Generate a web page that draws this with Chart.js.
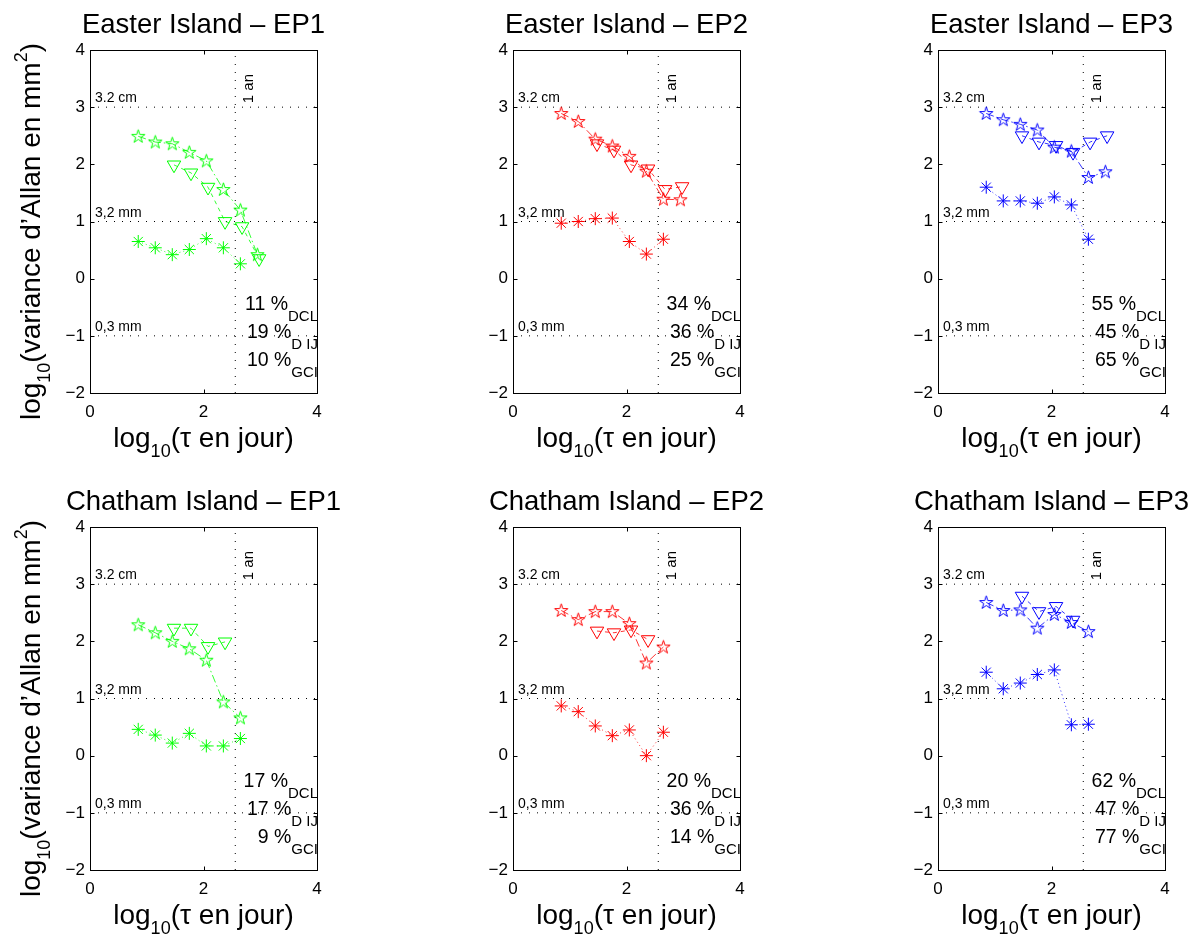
<!DOCTYPE html>
<html>
<head>
<meta charset="utf-8">
<script src="https://cdn.jsdelivr.net/npm/chart.js@4.4.1/dist/chart.umd.min.js"></script>
<style>
html,body{margin:0;padding:0;background:#fff;overflow:hidden;width:1199px;height:940px;}
canvas{position:absolute;}
</style>
</head>
<body>
<canvas id="p0" width="360" height="463" style="left:0px;top:0px"></canvas>
<canvas id="p1" width="360" height="463" style="left:423px;top:0px"></canvas>
<canvas id="p2" width="360" height="463" style="left:848px;top:0px"></canvas>
<canvas id="p3" width="360" height="463" style="left:0px;top:477px"></canvas>
<canvas id="p4" width="360" height="463" style="left:423px;top:477px"></canvas>
<canvas id="p5" width="360" height="463" style="left:848px;top:477px"></canvas>
<script>
const FONT = '"Liberation Sans", Arial, Helvetica, sans-serif';

// ---- axes / reference values ----
const xTicks = [0, 2, 4];
const yTicks = [-2, -1, 0, 1, 2, 3, 4];
const refLevels = [3, 1, -1];
const refLabels = ['3.2 cm', '3,2 mm', '0,3 mm'];
const yearLog = 2.56;
const yearLabel = '1 an';
const pctNames = ['DCL', 'D IJ', 'GCI'];
const pctLevels = [-0.54, -1.03, -1.53];

// ---- x positions (log10 tau, days) ----
const starTau = [0.85, 1.15, 1.45, 1.75, 2.05, 2.35, 2.65, 2.95];
const triTau  = [1.48, 1.78, 2.08, 2.38, 2.68, 2.98];
const astTau  = [0.85, 1.15, 1.45, 1.75, 2.05, 2.35, 2.65];

// ---- panel titles and colours ----
const titles = ['Easter Island \u2013 EP1', 'Easter Island \u2013 EP2', 'Easter Island \u2013 EP3',
                'Chatham Island \u2013 EP1', 'Chatham Island \u2013 EP2', 'Chatham Island \u2013 EP3'];
const colors = ['#00ff00', '#ff0000', '#0000ff', '#00ff00', '#ff0000', '#0000ff'];

// ---- Easter Island ----
const easterEP1Star = [2.49, 2.39, 2.36, 2.21, 2.06, 1.56, 1.20, 0.42];
const easterEP1Tri  = [1.99, 1.85, 1.60, 1.00, 0.91, 0.35];
const easterEP1Ast  = [0.65, 0.54, 0.42, 0.51, 0.70, 0.54, 0.26];
const easterEP1Pct  = [11, 19, 10];

const easterEP2Star = [2.89, 2.75, 2.44, 2.32, 2.14, 1.88, 1.39, 1.38];
const easterEP2Tri  = [2.36, 2.25, 1.99, 1.92, 1.56, 1.61];
const easterEP2Ast  = [0.97, 1.00, 1.05, 1.06, 0.65, 0.43, 0.69];
const easterEP2Pct  = [34, 36, 25];

const easterEP3Star = [2.89, 2.78, 2.70, 2.60, 2.30, 2.23, 1.77, 1.87];
const easterEP3Tri  = [2.50, 2.39, 2.33, 2.21, 2.39, 2.50];
const easterEP3Ast  = [1.60, 1.36, 1.36, 1.32, 1.43, 1.29, 0.69];
const easterEP3Pct  = [55, 45, 65];

// ---- Chatham Island ----
const chathamEP1Star = [2.29, 2.15, 2.00, 1.87, 1.67, 0.94, 0.66];
const chathamEP1Tri  = [2.23, 2.23, 1.91, 1.99];
const chathamEP1Ast  = [0.46, 0.36, 0.22, 0.39, 0.17, 0.17, 0.30];
const chathamEP1Pct  = [17, 17, 9];

const chathamEP2Star = [2.54, 2.38, 2.52, 2.52, 2.31, 1.62, 1.90];
const chathamEP2Tri  = [2.18, 2.15, 2.20, 2.03];
const chathamEP2Ast  = [0.87, 0.77, 0.52, 0.35, 0.45, 0.00, 0.41];
const chathamEP2Pct  = [20, 36, 14];

const chathamEP3Star = [2.68, 2.54, 2.55, 2.23, 2.47, 2.33, 2.17];
const chathamEP3Tri  = [2.79, 2.52, 2.61, 2.37];
const chathamEP3Ast  = [1.46, 1.17, 1.27, 1.42, 1.50, 0.54, 0.55];
const chathamEP3Pct  = [62, 47, 77];

const panels = [
  {star: easterEP1Star, tri: easterEP1Tri, ast: easterEP1Ast, pct: easterEP1Pct, yTitle: true},
  {star: easterEP2Star, tri: easterEP2Tri, ast: easterEP2Ast, pct: easterEP2Pct, yTitle: false},
  {star: easterEP3Star, tri: easterEP3Tri, ast: easterEP3Ast, pct: easterEP3Pct, yTitle: false},
  {star: chathamEP1Star, tri: chathamEP1Tri, ast: chathamEP1Ast, pct: chathamEP1Pct, yTitle: true},
  {star: chathamEP2Star, tri: chathamEP2Tri, ast: chathamEP2Ast, pct: chathamEP2Pct, yTitle: false},
  {star: chathamEP3Star, tri: chathamEP3Tri, ast: chathamEP3Ast, pct: chathamEP3Pct, yTitle: false}
];

function pentagram(color) {
  const c = document.createElement('canvas');
  c.width = 17; c.height = 17;
  const g = c.getContext('2d');
  const R = 7, r = R * 0.382, cx = 8.5, cy = 8.8;
  g.beginPath();
  for (let i = 0; i < 10; i++) {
    const a = -Math.PI / 2 + i * Math.PI / 5;
    const rr = (i % 2) ? r : R;
    g.lineTo(cx + rr * Math.cos(a), cy + rr * Math.sin(a));
  }
  g.closePath();
  g.strokeStyle = color; g.lineWidth = 1; g.stroke();
  return c;
}

function pts(xs, ys) { return ys.map((v, i) => ({x: xs[i], y: v})); }

function richWidth(ctx, segs) {
  let w = 0;
  segs.forEach(s => { ctx.font = s.size + 'px ' + FONT; w += ctx.measureText(s.t).width; });
  return w;
}
function drawRich(ctx, segs, x, y, align) {
  const w = richWidth(ctx, segs);
  let cx = align === 'center' ? x - w / 2 : (align === 'right' ? x - w : x);
  ctx.textAlign = 'left'; ctx.textBaseline = 'alphabetic';
  segs.forEach(s => {
    ctx.font = s.size + 'px ' + FONT;
    ctx.fillText(s.t, cx, y + (s.dy || 0));
    cx += ctx.measureText(s.t).width;
  });
}

const decor = {
  id: 'decor',
  afterDraw(chart, args, opts) {
    const {ctx, chartArea: a} = chart;
    const xs = chart.scales.x, ys = chart.scales.y;
    const p = opts.panel;
    ctx.save();
    ctx.strokeStyle = '#000'; ctx.lineWidth = 1;
    const L = Math.round(a.left) + 0.5, T = Math.round(a.top) + 0.5;
    const R = Math.round(a.right) + 0.5, B = Math.round(a.bottom) + 0.5;
    ctx.strokeRect(L, T, R - L, B - T);
    ctx.beginPath();
    xTicks.forEach(v => {
      const px = Math.round(xs.getPixelForValue(v)) + 0.5;
      ctx.moveTo(px, B); ctx.lineTo(px, B - 4);
      ctx.moveTo(px, T); ctx.lineTo(px, T + 4);
    });
    yTicks.forEach(v => {
      const py = Math.round(ys.getPixelForValue(v)) + 0.5;
      ctx.moveTo(L, py); ctx.lineTo(L + 4, py);
      ctx.moveTo(R, py); ctx.lineTo(R - 4, py);
    });
    ctx.stroke();

    ctx.fillStyle = '#000';
    ctx.textAlign = 'left'; ctx.textBaseline = 'alphabetic';
    ctx.font = '14px ' + FONT;
    refLevels.forEach((lv, i) => {
      ctx.fillText(refLabels[i], xs.getPixelForValue(0) + 5, ys.getPixelForValue(lv) - 5);
    });

    ctx.save();
    ctx.translate(xs.getPixelForValue(yearLog) + 18, ys.getPixelForValue(3) - 4);
    ctx.rotate(-Math.PI / 2);
    ctx.font = '15px ' + FONT;
    ctx.fillText(yearLabel, 0, 0);
    ctx.restore();

    p.pct.forEach((v, i) => {
      drawRich(ctx, [{t: v + ' %', size: 19.5}, {t: pctNames[i], size: 15, dy: 11}],
               a.right + 1, ys.getPixelForValue(pctLevels[i]), 'right');
    });

    ctx.font = '27.5px ' + FONT;
    ctx.textAlign = 'center';
    ctx.fillText(p.title, (a.left + a.right) / 2, a.top - 17);

    drawRich(ctx, [{t: 'log', size: 28}, {t: '10', size: 18, dy: 10}, {t: '(\u03c4 en jour)', size: 28}],
             (a.left + a.right) / 2, a.bottom + 54, 'center');

    if (p.yTitle) {
      ctx.save();
      ctx.translate(40, (a.top + a.bottom) / 2 + 10);
      ctx.rotate(-Math.PI / 2);
      drawRich(ctx, [{t: 'log', size: 28}, {t: '10', size: 18, dy: 10},
                     {t: '(variance d\u2019Allan en mm', size: 28}, {t: '2', size: 18, dy: -13},
                     {t: ')', size: 28}], 0, 0, 'center');
      ctx.restore();
    }
    ctx.restore();
  }
};

panels.forEach((p, k) => {
  const col = colors[k];
  p.title = titles[k];
  const refSets = refLevels.map(lv => ({
    data: [{x: 0, y: lv}, {x: 4, y: lv}], showLine: true, borderColor: '#000',
    borderWidth: 1, borderDash: [1, 7], pointRadius: 0, order: 10
  }));
  refSets.push({
    data: [{x: yearLog, y: -2}, {x: yearLog, y: 4}], showLine: true, borderColor: '#000',
    borderWidth: 1, borderDash: [1, 7], pointRadius: 0, order: 10
  });
  new Chart(document.getElementById('p' + k), {
    type: 'scatter',
    data: {
      datasets: [
        {data: pts(starTau, p.star), showLine: true, borderColor: col, borderWidth: 0.8,
         borderDash: [8, 3, 1.5, 3], pointStyle: pentagram(col), pointRadius: 7,
         pointBorderColor: col, pointBackgroundColor: 'rgba(0,0,0,0)', order: 1},
        {data: pts(triTau, p.tri), showLine: true, borderColor: col, borderWidth: 0.8,
         borderDash: [4, 4], pointStyle: 'triangle', pointRotation: 180, pointRadius: 7.8,
         pointBorderWidth: 1, pointBorderColor: col, pointBackgroundColor: 'rgba(0,0,0,0)', order: 2},
        {data: pts(astTau, p.ast), showLine: true, borderColor: col, borderWidth: 0.8,
         borderDash: [1, 3], pointStyle: 'star', pointRadius: 6.5,
         pointBorderWidth: 1, pointBorderColor: col, pointBackgroundColor: 'rgba(0,0,0,0)', order: 3}
      ].concat(refSets)
    },
    options: {
      responsive: false, animation: false, devicePixelRatio: 1,
      layout: {padding: {left: 0, top: 50, right: 43, bottom: 0}},
      plugins: {legend: {display: false}, tooltip: {enabled: false}, title: {display: false},
                decor: {panel: p}},
      scales: {
        x: {type: 'linear', min: 0, max: 4,
            afterBuildTicks: s => { s.ticks = xTicks.map(v => ({value: v})); },
            grid: {display: false, drawTicks: false}, border: {display: false},
            ticks: {color: '#000', font: {size: 17, family: FONT}, padding: 9, maxRotation: 0},
            afterFit: s => { s.height = 70; }},
        y: {type: 'linear', min: -2, max: 4,
            afterBuildTicks: s => { s.ticks = yTicks.map(v => ({value: v})); },
            grid: {display: false, drawTicks: false}, border: {display: false},
            ticks: {color: '#000', font: {size: 17, family: FONT}, padding: 5,
                    callback: v => String(v).replace('-', '\u2212')},
            afterFit: s => { s.width = 90; }}
      }
    },
    plugins: [decor]
  });
});
</script>
</body>
</html>
